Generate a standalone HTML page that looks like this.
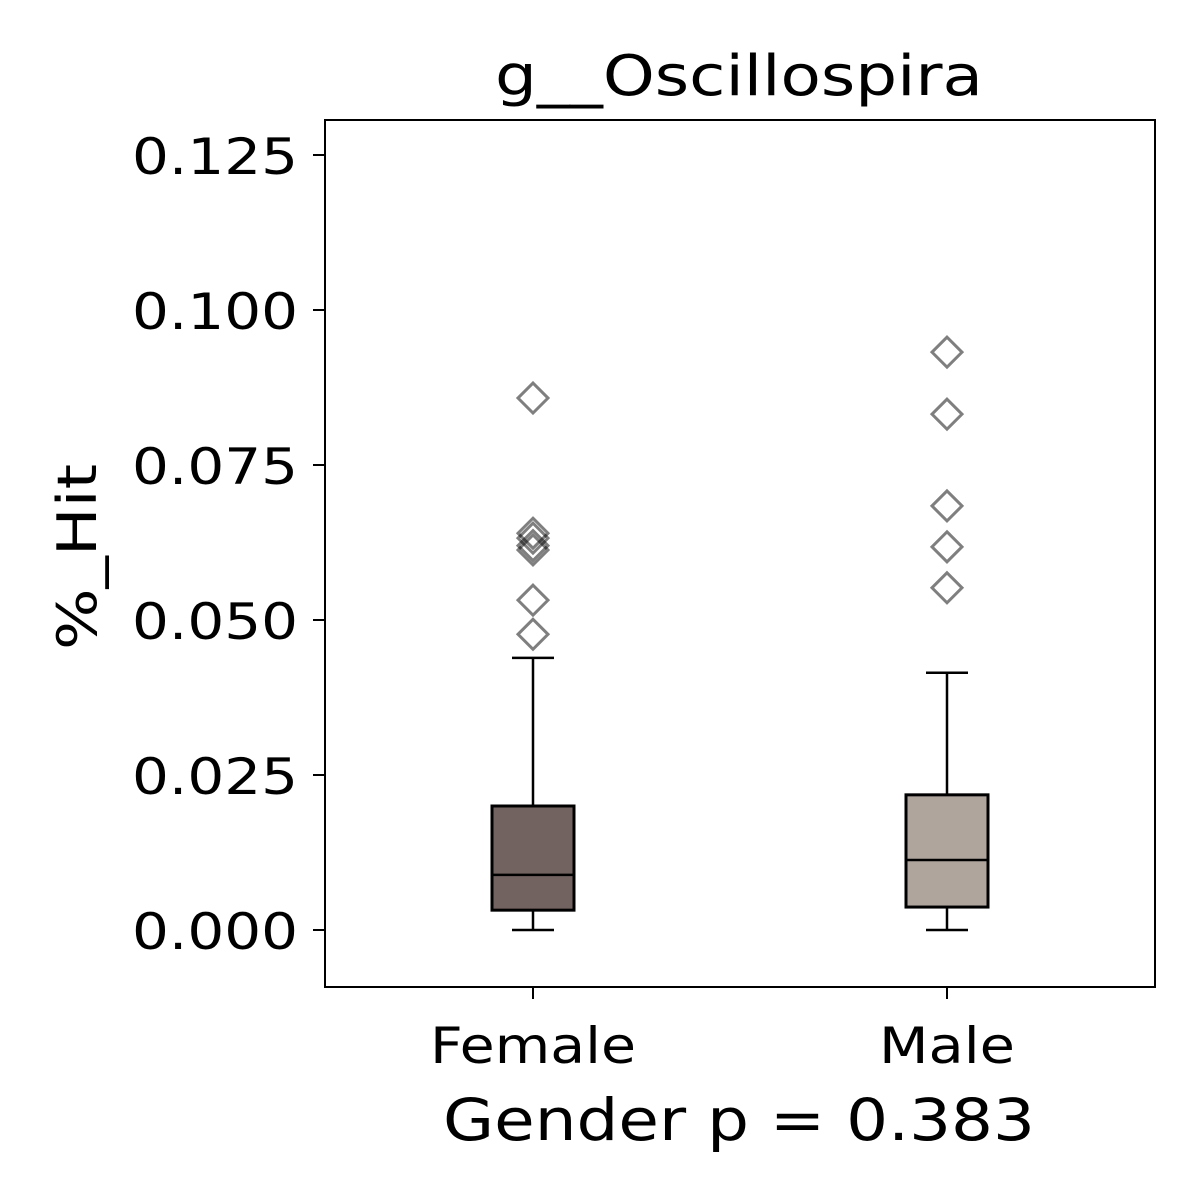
<!DOCTYPE html>
<html><head><meta charset="utf-8"><style>
html,body{margin:0;padding:0;background:#fff;}
svg{display:block;font-family:"DejaVu Sans","Liberation Sans",sans-serif;}
</style></head><body>
<svg id="chart" width="1200" height="1200" viewBox="0 0 1200 1200" xmlns="http://www.w3.org/2000/svg">
<rect width="1200" height="1200" fill="#fff"/>
<text x="739" y="95" font-size="56" text-anchor="middle" textLength="488" lengthAdjust="spacingAndGlyphs">g__Oscillospira</text>
<text transform="translate(96,557) rotate(-90)" font-size="54" text-anchor="middle" textLength="186" lengthAdjust="spacingAndGlyphs">%_Hit</text>
<text x="739" y="1140" font-size="58" text-anchor="middle" textLength="592" lengthAdjust="spacingAndGlyphs">Gender p = 0.383</text>
<g id="plot"></g>
<rect x="325" y="120" width="830" height="867" fill="none" stroke="#000" stroke-width="2"/>
</svg>
<script>
const categories=["Female","Male"];
const q1=[0.0032,0.0037];
const medians=[0.0089,0.0113];
const q3=[0.0200,0.0218];
const whiskerLow=[0.0,0.0];
const whiskerHigh=[0.0439,0.0415];
const outliersFemale=[0.0858,0.0640,0.0632,0.0620,0.0613,0.0532,0.0477];
const outliersMale=[0.0932,0.0832,0.0684,0.0618,0.0552];
const yTicks=[0,0.025,0.05,0.075,0.1,0.125];
const yTickLabels=["0.000","0.025","0.050","0.075","0.100","0.125"];
const colors=["#736360","#b0a59d"];
const outliers=[outliersFemale,outliersMale];

const NS="http://www.w3.org/2000/svg";
const g=document.getElementById('plot');
function y(v){return 930-v*6200;}
function x(i){return 533+i*414;}
function mk(t,a){const e=document.createElementNS(NS,t);for(const k in a)e.setAttribute(k,a[k]);g.appendChild(e);return e;}
yTicks.forEach((t,i)=>{
  const l=mk('line',{x1:313,x2:325,y1:y(t),y2:y(t),stroke:'#000','stroke-width':2});
  
  
  const tx=mk('text',{x:298,y:y(t)+19,'font-size':50,'text-anchor':'end',textLength:166,lengthAdjust:'spacingAndGlyphs'});
  tx.textContent=yTickLabels[i];
  
  
});
const xLabelWidths=[206,136];
categories.forEach((c,i)=>{
  const cx=x(i);
  const t=mk('line',{x1:cx,x2:cx,y1:987,y2:999,stroke:'#000','stroke-width':2});
  
  
  const tl=mk('text',{x:cx,y:1063,'font-size':50,'text-anchor':'middle',textLength:xLabelWidths[i],lengthAdjust:'spacingAndGlyphs'});
  tl.textContent=c;
  
  
  const w1=mk('line',{x1:cx,x2:cx,y1:y(q3[i]),y2:y(whiskerHigh[i]),stroke:'#000','stroke-width':2.5});
  
  
  const w2=mk('line',{x1:cx,x2:cx,y1:y(q1[i]),y2:y(whiskerLow[i]),stroke:'#000','stroke-width':2.5});
  
  
  [whiskerHigh[i],whiskerLow[i]].forEach(v=>{
    const cap=mk('line',{x1:cx-21,x2:cx+21,y1:y(v),y2:y(v),stroke:'#000','stroke-width':2.5});
    
    
  });
  const b=mk('rect',{x:cx-41,y:y(q3[i]),width:82,height:y(q1[i])-y(q3[i]),fill:colors[i],stroke:'#000','stroke-width':3});
  
  
  const m=mk('line',{x1:cx-41,x2:cx+41,y1:y(medians[i]),y2:y(medians[i]),stroke:'#000','stroke-width':2.5});
  
  
  outliers[i].forEach(v=>{
    const yy=y(v),s=15;
    const p=mk('path',{d:`M${cx} ${yy-s}L${cx+s} ${yy}L${cx} ${yy+s}L${cx-s} ${yy}Z`,fill:'none',stroke:'#000','stroke-opacity':0.5,'stroke-width':3});
    
    
  });
});
</script>
</body></html>
